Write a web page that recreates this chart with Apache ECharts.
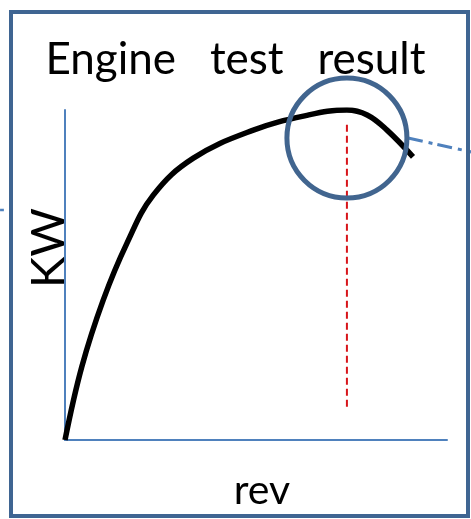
<!DOCTYPE html>
<html>
<head>
<meta charset="utf-8">
<script src="https://cdn.jsdelivr.net/npm/echarts@6/dist/echarts.min.js"></script>
<style>
  html, body { margin: 0; padding: 0; background: #fff; }
  #main { width: 471px; height: 519px; }
</style>
</head>
<body>
<div id="main"></div>
<script>
// power curve (rev and KW on a 0-100 scale)
var rev = [0, 4.4, 10.0, 16.2, 23.1, 33.6, 49.3, 63.0, 73.8, 79.1, 84.3, 91.1];
var kw  = [0, 22.2, 42.4, 59.6, 74.2, 85.4, 93.9, 98.3, 100, 98.5, 93.9, 85.8];

// peak marker (dashed vertical line) and highlight circle
var peakRev = 73.8;
var peakLine = [95.5, 9.4];
var circleCenter = [73.8, 91.5];

// dash-dot callout lines running out of the frame (same rev/KW scale)
var calloutRight = [[89.8, 91.5], [106.3, 87.3]];
var calloutLeft = [[-17.0, 69.7], [-16.0, 69.7]];

var chart = echarts.init(document.getElementById('main'));

var font = 'Lato, "Open Sans", sans-serif';
var axisBlue = '#4F81BD';

var option = {
  animation: false,
  title: {
    text: 'Engine   test   result',
    left: 'center',
    top: 33,
    textStyle: { fontFamily: font, fontSize: 44, fontWeight: 'normal', color: '#000' }
  },
  grid: [
    { left: 65, right: 24, top: 110, bottom: 79 },
    // full-width grid with the same scale, for the callouts that leave the plot
    { left: 0, right: 0, top: 110, bottom: 79 }
  ],
  xAxis: [{
    type: 'value', min: 0, max: 100,
    name: 'rev', nameLocation: 'middle', nameGap: 30,
    nameTextStyle: { fontFamily: font, fontSize: 41, color: '#000', padding: [0, 0, 0, 12] },
    axisLine: { onZero: false, lineStyle: { color: axisBlue, width: 2 } },
    axisTick: { show: false }, axisLabel: { show: false }, splitLine: { show: false }
  }, {
    type: 'value', gridIndex: 1, min: -65 / 3.82, max: 406 / 3.82, show: false
  }],
  yAxis: [{
    type: 'value', min: 0, max: 100,
    name: 'KW', nameLocation: 'middle', nameGap: -7,
    nameTextStyle: { fontFamily: font, fontSize: 47, color: '#000', padding: [0, 0, 0, 54] },
    axisLine: { show: true, onZero: false, lineStyle: { color: axisBlue, width: 2 } },
    axisTick: { show: false }, axisLabel: { show: false }, splitLine: { show: false }
  }, {
    type: 'value', gridIndex: 1, min: 0, max: 100, show: false
  }],
  graphic: [{
    type: 'rect',
    shape: { x: 11, y: 12, width: 457, height: 504 },
    style: { fill: null, stroke: '#3F6592', lineWidth: 4 },
    z: 100
  }],
  series: [
    {
      type: 'line',
      data: rev.map(function (r, i) { return [r, kw[i]]; }),
      smooth: 0.4,
      showSymbol: false,
      lineStyle: { color: '#000', width: 5.5 },
      z: 3
    },
    {
      type: 'line',
      data: [[peakRev, peakLine[0]], [peakRev, peakLine[1]]],
      showSymbol: false,
      lineStyle: { color: '#D7141A', width: 2, type: [7, 4] },
      z: 2
    },
    {
      type: 'scatter',
      data: [circleCenter],
      symbol: 'circle',
      symbolSize: 120,
      itemStyle: { color: 'rgba(0,0,0,0)', borderColor: '#41658F', borderWidth: 5, opacity: 1 },
      z: 5
    },
    {
      type: 'line',
      xAxisIndex: 1, yAxisIndex: 1,
      data: calloutRight,
      showSymbol: false,
      lineStyle: { color: axisBlue, width: 3, type: [15, 6, 4, 5] },
      z: 4
    },
    {
      type: 'line',
      xAxisIndex: 1, yAxisIndex: 1,
      data: calloutLeft,
      showSymbol: false,
      lineStyle: { color: axisBlue, width: 2.5 },
      z: 4
    }
  ]
};

chart.setOption(option);
</script>
</body>
</html>
